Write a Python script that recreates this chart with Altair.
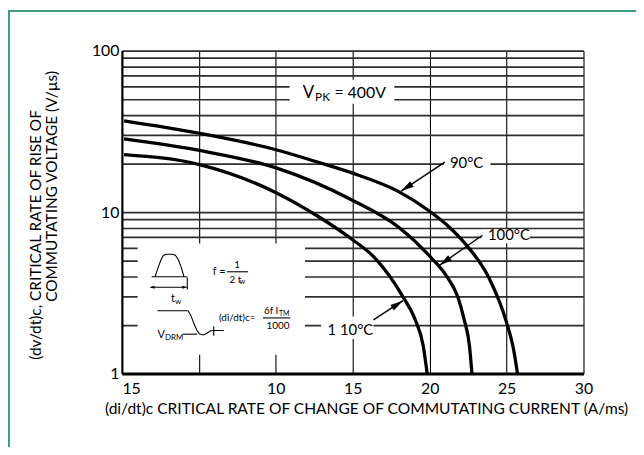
import altair as alt
import pandas as pd

# ---------------- data ----------------
x_90 = [5.07, 7.52, 10.02, 12.66, 14.95, 17.99, 20.02, 21.16, 22.49, 23.81, 25.0, 25.45, 25.71]
y_90 = [36.8, 30.8, 24.35, 20.5, 17.5, 13.4, 10.1, 8.27, 6.09, 3.99, 2.07, 1.42, 1.0]
x_100 = [5.07, 7.52, 10.02, 14.95, 17.99, 20.1, 21.11, 21.82, 22.24, 22.59, 22.75]
y_100 = [28.4, 24.1, 18.8, 11.9, 8.07, 5.22, 4.0, 3.0, 2.17, 1.48, 1.0]
x_110 = [5.07, 7.52, 10.02, 12.68, 14.95, 16.4, 18.25, 19.05, 19.58, 19.84]
y_110 = [22.7, 19.7, 13.2, 9.5, 6.79, 5.25, 3.01, 2.17, 1.49, 1.0]

x_tick_values = [5, 7.5, 10, 15, 20, 25, 30]
x_tick_labels = ["15", "", "10", "15", "20", "25", "30"]
y_tick_values = [1, 2, 3, 4, 5, 6, 7, 8, 9, 10, 20, 30, 40, 50, 60, 70, 80, 90, 100]
y_label_values = [1, 10, 100]

curve_names = ["90°C", "100°C", "1 10°C"]
label_x = [22.4, 25.15, 14.85]
label_y = [20.0, 7.25, 1.86]
arrow_from_x = [20.99, 23.43, 16.35]
arrow_from_y = [20.4, 7.19, 2.15]
arrow_to_x = [18.15, 20.64, 18.26]
arrow_to_y = [13.5, 4.69, 2.83]
arrow_angle = [236.5, 234.9, 56.4]

# white label boxes (data coordinates)
box_x1 = [10.9, 5.51, 20.92, 23.37, 12.94]
box_x2 = [17.7, 11.9, 23.95, 26.5, 16.35]
box_y1 = [47.0, 1.31, 17.5, 6.42, 1.64]
box_y2 = [66.0, 6.4, 23.0, 7.82, 2.26]

W, H = 466, 326
FONT = "Lato"

# ---------------- main (data) layer ----------------
xs = alt.Scale(domain=[5, 10, 30], range=[0, W / 3, W], nice=False, zero=False)
ys = alt.Scale(type="log", domain=[1, 100], nice=False)

lab_expr = "[" + ",".join(f"'{l}'" for l in x_tick_labels) + "][indexof([" + \
    ",".join(str(v) for v in x_tick_values) + "], datum.value)]"
ylab_expr = "indexof([" + ",".join(str(v) for v in y_label_values) + \
    "], datum.value) >= 0 ? format(datum.value, 'd') : ''"

x_axis = alt.Axis(values=x_tick_values, labelExpr=lab_expr, grid=True,
                  gridColor="#000", gridWidth=1.1, gridOpacity=1, ticks=False,
                  domainColor="#000", domainWidth=3, labelFont=FONT,
                  labelFontSize=16, labelColor="#000", labelPadding=7,
                  labelFlush=False, labelOverlap=False, title=None,
                  labelAlign={"condition": {"test": "datum.value <= 5", "value": "left"},
                              "value": "center"})
y_axis = alt.Axis(values=y_tick_values, labelExpr=ylab_expr, grid=True,
                  gridColor="#2e2e2e", gridWidth=1.7, gridOpacity=1, ticks=False,
                  domainColor="#000", domainWidth=2.2, labelFont=FONT,
                  labelFontSize=16, labelColor="#000", labelPadding=3,
                  labelOverlap=False, title=None)

rows = []
for name, xx, yy in zip(curve_names, [x_90, x_100, x_110], [y_90, y_100, y_110]):
    for i, (a, b) in enumerate(zip(xx, yy)):
        rows.append({"curve": name, "x": a, "y": b, "o": i})
curves_df = pd.DataFrame(rows)

boxes_df = pd.DataFrame({"x": box_x1, "x2": box_x2, "y": box_y1, "y2": box_y2})
boxes = alt.Chart(boxes_df).mark_rect(color="white").encode(
    x=alt.X("x:Q", scale=xs, axis=x_axis), x2="x2:Q",
    y=alt.Y("y:Q", scale=ys, axis=y_axis), y2="y2:Q")

curves = alt.Chart(curves_df).mark_line(color="black", strokeWidth=3.3,
                                        interpolate="monotone").encode(
    x=alt.X("x:Q", scale=xs), y=alt.Y("y:Q", scale=ys),
    detail="curve:N", order="o:Q")

arr_rows = []
for n, fx, fy, tx, ty in zip(curve_names, arrow_from_x, arrow_from_y, arrow_to_x, arrow_to_y):
    arr_rows.append({"a": n, "x": fx, "y": fy, "o": 0})
    arr_rows.append({"a": n, "x": tx, "y": ty, "o": 1})
shafts = alt.Chart(pd.DataFrame(arr_rows)).mark_line(color="black", strokeWidth=1.4).encode(
    x=alt.X("x:Q", scale=xs), y=alt.Y("y:Q", scale=ys), detail="a:N", order="o:Q")

heads_df = pd.DataFrame({"x": arrow_to_x, "y": arrow_to_y, "ang": arrow_angle})
heads = alt.Chart(heads_df).mark_point(shape="M0,0 L0.5,2 L-0.5,2 Z", filled=True,
                                       color="black", opacity=1, size=169).encode(
    x=alt.X("x:Q", scale=xs), y=alt.Y("y:Q", scale=ys),
    angle=alt.Angle("ang:Q", scale=None))

labels_df = pd.DataFrame({"t": curve_names, "x": label_x, "y": label_y})
labels = alt.Chart(labels_df).mark_text(font=FONT, fontSize=15, color="black",
                                        baseline="middle", align="center").encode(
    x=alt.X("x:Q", scale=xs), y=alt.Y("y:Q", scale=ys), text="t:N")

main = alt.layer(boxes, curves, shafts, heads, labels)

# ---------------- pixel layer: schematic inset, titles, frame ----------------
pxs = alt.Scale(domain=[0, W], nice=False, zero=False)
pys = alt.Scale(domain=[0, H], nice=False, zero=False, reverse=True)

segments = {
    "base": [(30, 228.2), (66, 228.2)],
    "pulse": [(33.4, 228.2), (36.5, 219), (39.5, 211), (42, 206.5), (45, 205.5),
              (51, 205.5), (54, 206.5), (57, 211), (60, 219), (62.7, 228.2)],
    "tw": [(29, 238.8), (65, 238.8)],
    "twtick": [(66, 229), (66, 241)],
    "wave": [(36, 262.5), (66.7, 262.5), (69.5, 267), (72.5, 275), (75.5, 282),
             (78.5, 286), (82, 287), (85.5, 285.5), (89, 283), (92, 282.5), (102.7, 282.5)],
    "vdrm": [(61.7, 286.2), (76, 286.2)],
    "tick": [(92.7, 278.2), (92.7, 287.8)],
    "fbar1": [(106, 223.2), (127.4, 223.2)],
    "fbar2": [(142.4, 269.8), (170, 269.8)],
}
seg_rows = []
for k, pts in segments.items():
    for i, (a, b) in enumerate(pts):
        seg_rows.append({"s": k, "px": a, "py": b, "o": i})
inset_lines = alt.Chart(pd.DataFrame(seg_rows)).mark_line(color="black", strokeWidth=1.1).encode(
    x=alt.X("px:Q", scale=pxs, axis=None), y=alt.Y("py:Q", scale=pys, axis=None),
    detail="s:N", order="o:Q")

tw_heads = alt.Chart(pd.DataFrame({"px": [28, 66], "py": [238.8, 238.8], "ang": [270, 90]})).mark_point(
    shape="M0,0 L0.6,2 L-0.6,2 Z", filled=True, color="black", opacity=1, size=25).encode(
    x=alt.X("px:Q", scale=pxs, axis=None), y=alt.Y("py:Q", scale=pys, axis=None),
    angle=alt.Angle("ang:Q", scale=None))

txt_t = ["t", "w", "f =", "1", "2 t", "w", "V", "DRM", "(di/dt)c=", "6f I", "TM", "1000",
         "V", "PK", "= 400V"]
txt_x = [49.5, 53.5, 91.7, 113.5, 108.5, 119, 36, 43.5, 98, 143.5, 158.5, 146,
         182.5, 195, 214.5]
txt_y = [250.5, 253.5, 223.2, 216.5, 231.5, 234, 287.5, 290, 269.8, 263, 266, 277.8,
         42.5, 46.5, 42.5]
txt_s = [11, 8, 11, 10, 10, 7, 11, 8, 10, 10, 7, 10, 17, 12, 16]
texts = alt.Chart(pd.DataFrame({"t": txt_t, "px": txt_x, "py": txt_y, "fs": txt_s})).mark_text(
    font=FONT, color="black", align="left", baseline="middle").encode(
    x=alt.X("px:Q", scale=pxs, axis=None), y=alt.Y("py:Q", scale=pys, axis=None),
    text="t:N", size=alt.Size("fs:Q", scale=None))

x_title = "(di/dt)c CRITICAL RATE OF CHANGE OF COMMUTATING CURRENT (A/ms)"
y_title = ["(dv/dt)c, CRITICAL RATE OF RISE OF", "COMMUTATING VOLTAGE (V/µs)"]
xt = alt.Chart(pd.DataFrame({"t": [x_title], "px": [247], "py": [362]})).mark_text(
    font=FONT, fontSize=15.7, color="black", align="center", baseline="middle").encode(
    x=alt.X("px:Q", scale=pxs, axis=None), y=alt.Y("py:Q", scale=pys, axis=None), text="t:N")
yt = alt.Chart(pd.DataFrame({"t": y_title, "px": [-87, -71], "py": [186, 137]})).mark_text(
    font=FONT, fontSize=15.5, color="black", align="center", baseline="middle", angle=270).encode(
    x=alt.X("px:Q", scale=pxs, axis=None), y=alt.Y("py:Q", scale=pys, axis=None), text="t:N")

one = pd.DataFrame({"a": [0]})
frame_l = alt.Chart(one).mark_rule(color="#3a9f77", strokeWidth=2).encode(
    x=alt.value(-114), y=alt.value(-40), y2=alt.value(420))
frame_t = alt.Chart(one).mark_rule(color="#3a9f77", strokeWidth=2).encode(
    x=alt.value(-115), x2=alt.value(525), y=alt.value(-40))

pix = alt.layer(inset_lines, tw_heads, texts, xt, yt, frame_l, frame_t)

chart = alt.layer(main, pix).resolve_scale(x="independent", y="independent").properties(
    width=W, height=H,
    autosize=alt.AutoSizeParams(type="none"),
    padding={"left": 115, "top": 41, "right": 53, "bottom": 72},
    background="white",
).configure_view(stroke=None)

chart.save("out.html", embed_options={"renderer": "svg", "actions": False})
